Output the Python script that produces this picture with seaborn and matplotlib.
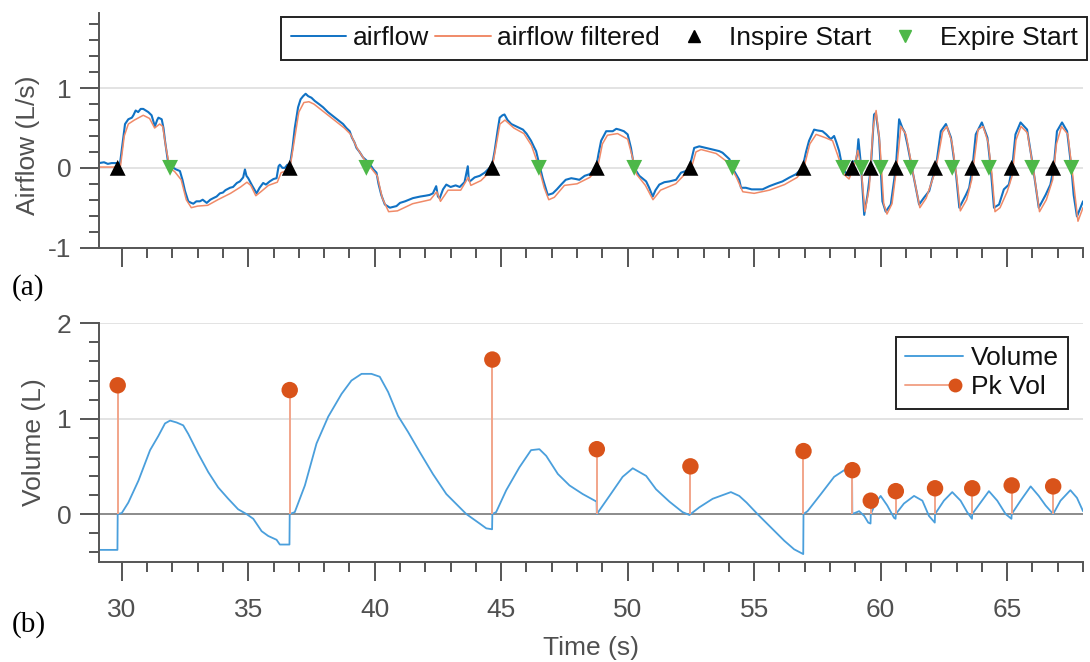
import matplotlib
matplotlib.use("Agg")
import matplotlib.pyplot as plt
from matplotlib.lines import Line2D
from matplotlib.legend_handler import HandlerBase
from matplotlib.ticker import MultipleLocator
import seaborn as sns

# ---------------- data ----------------
AIR_T = [29.10, 29.30, 29.45, 29.60, 29.80, 29.93, 30.05, 30.13, 30.26, 30.40, 30.46, 30.55, 30.65, 30.75,
         30.85, 30.95, 31.05, 31.18, 31.31, 31.40, 31.45, 31.58, 31.65, 31.71, 31.84, 31.95, 32.04, 32.15,
         32.30, 32.40, 32.50, 32.63, 32.75, 32.83, 32.95, 33.09, 33.20, 33.36, 33.50, 33.62, 33.75, 33.88,
         34.00, 34.10, 34.28, 34.40, 34.55, 34.67, 34.80, 34.87, 34.93, 35.00, 35.15, 35.33, 35.45, 35.59,
         35.70, 35.85, 36.00, 36.12, 36.20, 36.25, 36.35, 36.45, 36.55, 36.64, 36.75, 36.84, 36.97, 37.07,
         37.17, 37.27, 37.37, 37.50, 37.63, 37.80, 37.96, 38.15, 38.35, 38.55, 38.75, 38.88, 39.01, 39.10,
         39.20, 39.28, 39.40, 39.54, 39.65, 39.80, 39.95, 40.07, 40.15, 40.26, 40.40, 40.60, 40.86, 41.00,
         41.20, 41.51, 41.80, 42.00, 42.17, 42.30, 42.43, 42.50, 42.57, 42.70, 42.83, 43.00, 43.20, 43.36,
         43.55, 43.68, 43.72, 43.76, 43.95, 44.15, 44.35, 44.54, 44.65, 44.74, 44.85, 44.94, 45.05, 45.13,
         45.25, 45.40, 45.60, 45.86, 46.00, 46.18, 46.30, 46.38, 46.51, 46.64, 46.84, 47.04, 47.20, 47.37,
         47.55, 47.77, 47.95, 48.09, 48.30, 48.49, 48.65, 48.75, 48.85, 48.95, 49.15, 49.41, 49.55, 49.67,
         49.85, 50.00, 50.13, 50.26, 50.46, 50.73, 50.85, 50.99, 51.10, 51.25, 51.45, 51.65, 51.91, 52.11,
         52.30, 52.44, 52.63, 52.83, 53.10, 53.36, 53.62, 53.75, 54.02, 54.21, 54.41, 54.48, 54.67, 54.90,
         55.10, 55.33, 55.60, 55.85, 56.12, 56.40, 56.65, 56.91, 57.05, 57.17, 57.37, 57.50, 57.70, 57.85,
         58.03, 58.16, 58.25, 58.36, 58.49, 58.62, 58.76, 58.88, 59.02, 59.08, 59.12, 59.17, 59.22, 59.35,
         59.48, 59.61, 59.74, 59.81, 59.94, 60.07, 60.20, 60.40, 60.60, 60.73, 60.86, 60.95, 61.06, 61.26,
         61.52, 61.70, 61.92, 62.05, 62.18, 62.38, 62.58, 62.78, 62.98, 63.11, 63.37, 63.50, 63.63, 63.76,
         64.00, 64.22, 64.35, 64.48, 64.68, 64.87, 65.07, 65.20, 65.33, 65.53, 65.79, 65.99, 66.25, 66.52,
         66.71, 66.84, 66.97, 67.17, 67.37, 67.54, 67.63, 67.76, 67.90, 68.00]
AIR_V = [0.06, 0.07, 0.05, 0.06, 0.06, 0.05, 0.35, 0.55, 0.61, 0.63, 0.66, 0.72, 0.70, 0.74,
         0.74, 0.72, 0.70, 0.66, 0.52, 0.60, 0.63, 0.61, 0.50, 0.34, 0.05, 0.02, 0.00, -0.02,
         -0.04, -0.15, -0.29, -0.42, -0.44, -0.45, -0.42, -0.42, -0.40, -0.44, -0.40, -0.38, -0.36, -0.32,
         -0.31, -0.28, -0.25, -0.24, -0.19, -0.17, -0.12, -0.02, -0.10, -0.13, -0.22, -0.32, -0.25, -0.19,
         -0.21, -0.17, -0.14, -0.13, 0.02, 0.04, 0.00, 0.00, 0.04, 0.02, 0.25, 0.50, 0.76, 0.86,
         0.90, 0.93, 0.90, 0.88, 0.84, 0.80, 0.76, 0.70, 0.65, 0.60, 0.55, 0.50, 0.46, 0.38,
         0.32, 0.25, 0.20, 0.13, 0.10, 0.05, -0.02, -0.06, -0.20, -0.34, -0.46, -0.50, -0.48, -0.44,
         -0.42, -0.38, -0.36, -0.35, -0.34, -0.32, -0.23, -0.36, -0.38, -0.27, -0.21, -0.24, -0.22, -0.24,
         -0.18, 0.02, -0.15, -0.17, -0.12, -0.10, -0.06, 0.00, 0.05, 0.21, 0.45, 0.63, 0.66, 0.67,
         0.60, 0.55, 0.52, 0.48, 0.43, 0.34, 0.26, 0.21, 0.04, -0.13, -0.34, -0.32, -0.27, -0.21,
         -0.15, -0.13, -0.14, -0.15, -0.10, -0.08, -0.04, 0.00, 0.18, 0.34, 0.46, 0.46, 0.49, 0.48,
         0.46, 0.42, 0.25, 0.00, -0.10, -0.17, -0.25, -0.36, -0.28, -0.21, -0.18, -0.17, -0.15, -0.06,
         -0.04, 0.00, 0.25, 0.27, 0.25, 0.23, 0.21, 0.19, 0.11, -0.04, -0.15, -0.25, -0.25, -0.27,
         -0.27, -0.27, -0.23, -0.20, -0.17, -0.12, -0.08, 0.00, 0.20, 0.34, 0.48, 0.47, 0.46, 0.42,
         0.36, 0.40, 0.32, 0.21, 0.00, -0.06, -0.10, 0.08, 0.08, 0.20, 0.36, 0.20, 0.04, -0.59,
         -0.34, 0.00, 0.67, 0.69, 0.38, -0.42, -0.55, -0.46, 0.00, 0.61, 0.50, 0.45, 0.29, -0.04,
         -0.46, -0.38, -0.29, -0.13, 0.00, 0.46, 0.55, 0.38, -0.08, -0.50, -0.34, -0.25, 0.00, 0.42,
         0.57, 0.38, 0.00, -0.50, -0.46, -0.27, -0.21, 0.00, 0.42, 0.57, 0.48, 0.08, -0.50, -0.34,
         -0.21, 0.00, 0.46, 0.57, 0.46, 0.00, -0.34, -0.61, -0.50, -0.42]

FILT_T = [29.10, 29.80, 29.95, 30.10, 30.26, 30.50, 30.85, 31.10, 31.30, 31.50, 31.62, 31.75, 31.90, 32.10,
          32.35, 32.55, 32.75, 33.00, 33.40, 33.80, 34.30, 34.70, 34.95, 35.10, 35.30, 35.50, 35.80, 36.15,
          36.30, 36.50, 36.65, 36.80, 37.00, 37.20, 37.40, 37.60, 38.00, 38.40, 38.80, 39.05, 39.30, 39.60,
          39.90, 40.10, 40.30, 40.55, 40.90, 41.50, 42.20, 42.45, 42.60, 42.90, 43.40, 43.70, 43.80, 44.20,
          44.55, 44.70, 44.95, 45.15, 45.50, 45.90, 46.20, 46.45, 46.70, 46.88, 47.10, 47.50, 48.00, 48.50,
          48.80, 49.00, 49.20, 49.60, 50.00, 50.20, 50.35, 50.70, 51.00, 51.30, 51.90, 52.20, 52.50, 52.70,
          52.90, 53.50, 54.00, 54.30, 54.55, 55.00, 55.60, 56.20, 56.70, 56.95, 57.20, 57.45, 57.80, 58.10,
          58.30, 58.55, 58.75, 58.95, 59.10, 59.22, 59.38, 59.55, 59.70, 59.82, 59.97, 60.12, 60.25, 60.45,
          60.65, 60.80, 61.00, 61.10, 61.30, 61.55, 61.80, 62.10, 62.25, 62.45, 62.62, 62.82, 63.02, 63.15,
          63.40, 63.60, 63.70, 63.85, 64.05, 64.25, 64.40, 64.52, 64.72, 65.00, 65.20, 65.35, 65.55, 65.80,
          66.02, 66.28, 66.55, 66.80, 66.95, 67.15, 67.40, 67.58, 67.80, 68.00]
FILT_V = [0.01, 0.01, 0.02, 0.40, 0.55, 0.60, 0.66, 0.62, 0.50, 0.55, 0.52, 0.25, 0.00, -0.05,
          -0.15, -0.40, -0.50, -0.48, -0.47, -0.40, -0.32, -0.24, -0.18, -0.22, -0.35, -0.30, -0.22, -0.18,
          -0.06, -0.04, 0.00, 0.30, 0.70, 0.82, 0.83, 0.80, 0.70, 0.60, 0.50, 0.42, 0.25, 0.10,
          -0.02, -0.10, -0.38, -0.55, -0.54, -0.45, -0.40, -0.30, -0.42, -0.28, -0.28, -0.12, -0.22, -0.16,
          -0.05, 0.10, 0.55, 0.60, 0.50, 0.43, 0.28, 0.05, -0.25, -0.40, -0.37, -0.22, -0.20, -0.12,
          -0.02, 0.30, 0.41, 0.43, 0.36, 0.12, -0.08, -0.22, -0.40, -0.28, -0.20, -0.10, -0.02, 0.20,
          0.23, 0.18, 0.06, -0.12, -0.30, -0.32, -0.28, -0.21, -0.12, -0.02, 0.30, 0.42, 0.38, 0.34,
          0.16, -0.08, -0.14, 0.02, 0.22, 0.02, -0.55, -0.25, 0.50, 0.72, 0.30, -0.45, -0.58, -0.45,
          0.05, 0.52, 0.42, 0.25, -0.10, -0.50, -0.38, -0.10, 0.10, 0.45, 0.52, 0.32, -0.15, -0.54,
          -0.40, -0.15, 0.10, 0.48, 0.52, 0.32, -0.08, -0.55, -0.50, -0.30, -0.10, 0.35, 0.52, 0.44,
          0.02, -0.55, -0.40, -0.15, 0.30, 0.52, 0.42, -0.06, -0.67, -0.50]

INSPIRE_T = [29.84, 36.64, 44.65, 48.78, 52.48, 56.95, 58.88, 59.61, 60.60, 62.15, 63.62, 65.18, 66.82]
EXPIRE_T = [31.91, 39.67, 46.49, 50.26, 54.14, 58.52, 59.24, 60.00, 61.19, 62.83, 64.28, 65.99, 67.54]

VOL_T = [29.08, 29.83, 29.84, 30.00, 30.26, 30.66, 31.12, 31.45, 31.71, 31.91, 32.17, 32.43, 32.63, 33.03,
         33.42, 33.81, 34.21, 34.60, 34.93, 35.20, 35.53, 35.79, 36.12, 36.25, 36.63, 36.64, 36.84, 37.24,
         37.70, 38.16, 38.69, 39.08, 39.48, 39.87, 40.20, 40.53, 40.92, 41.32, 41.78, 42.30, 42.83, 43.62,
         44.15, 44.41, 44.64, 44.65, 44.80, 45.20, 45.72, 46.18, 46.51, 46.78, 47.24, 47.70, 48.22, 48.77,
         48.78, 49.28, 49.80, 50.20, 50.73, 51.12, 51.65, 52.17, 52.44, 52.83, 53.36, 54.08, 54.41, 54.70,
         55.13, 55.66, 56.19, 56.58, 56.94, 56.95, 57.11, 57.64, 58.16, 58.56, 58.87, 58.88, 59.15, 59.35,
         59.51, 59.60, 59.61, 59.81, 60.00, 60.26, 60.53, 60.59, 60.60, 60.92, 61.32, 61.65, 61.91, 62.14,
         62.15, 62.50, 62.83, 63.16, 63.42, 63.61, 63.62, 63.95, 64.28, 64.61, 64.94, 65.17, 65.18, 65.53,
         65.93, 66.25, 66.52, 66.82, 67.11, 67.50, 67.76, 68.00]
VOL_V = [-0.376, -0.376, 0.00, 0.01, 0.12, 0.35, 0.67, 0.82, 0.95, 0.98, 0.96, 0.93, 0.84, 0.63,
         0.44, 0.28, 0.16, 0.05, 0.00, -0.05, -0.18, -0.23, -0.27, -0.32, -0.32, 0.00, 0.02, 0.30,
         0.74, 1.02, 1.26, 1.40, 1.47, 1.47, 1.44, 1.28, 1.03, 0.86, 0.65, 0.42, 0.21, 0.00,
         -0.10, -0.15, -0.16, 0.00, 0.02, 0.25, 0.49, 0.67, 0.68, 0.61, 0.42, 0.30, 0.21, 0.13,
         0.00, 0.19, 0.39, 0.48, 0.40, 0.26, 0.13, 0.02, -0.01, 0.07, 0.16, 0.23, 0.19, 0.12,
         0.00, -0.14, -0.28, -0.37, -0.42, 0.00, 0.03, 0.21, 0.39, 0.46, 0.44, 0.00, 0.03, -0.02,
         -0.09, -0.10, 0.00, 0.12, 0.19, 0.09, -0.04, -0.05, 0.00, 0.11, 0.19, 0.14, -0.02, -0.09,
         0.00, 0.14, 0.23, 0.14, 0.02, -0.05, 0.00, 0.12, 0.24, 0.14, 0.00, -0.05, 0.00, 0.14,
         0.29, 0.19, 0.09, 0.00, 0.14, 0.25, 0.17, 0.03]

PK_T = [29.84, 36.64, 44.65, 48.78, 52.48, 56.95, 58.88, 59.61, 60.60, 62.15, 63.62, 65.18, 66.82]
PK_V = [1.35, 1.30, 1.62, 0.68, 0.50, 0.66, 0.46, 0.14, 0.24, 0.27, 0.27, 0.30, 0.29]

X_TICKS = [30, 35, 40, 45, 50, 55, 60, 65]
X_TICK_LABELS = ["30", "35", "40", "45", "50", "55", "60", "65"]

# ---------------- style ----------------
sns.set_theme(style="white")
plt.rcParams["font.family"] = ["Liberation Sans", "DejaVu Sans"]

BLUE = "#1172c4"
ORANGE_F = "#f08a68"
VOL_BLUE = "#4a9fdc"
STEM = "#f2a58a"
DOT = "#d9531a"
GREEN = "#4db848"
GREY = "#505050"
FS = 19

fig = plt.figure(figsize=(10.9, 6.62), dpi=100)
ax1 = fig.add_axes([0.0908, 0.6249, 0.9028, 0.3550])
ax2 = fig.add_axes([0.0908, 0.1515, 0.9028, 0.3601])

for ax in (ax1, ax2):
    for s in ("top", "right"):
        ax.spines[s].set_visible(False)
    for s in ("left", "bottom"):
        ax.spines[s].set_color("#555555")
        ax.spines[s].set_linewidth(1.4)
    ax.set_xlim(29.1, 68.0)
    ax.xaxis.set_major_locator(MultipleLocator(5))
    ax.xaxis.set_minor_locator(MultipleLocator(1))
    ax.tick_params(which="major", direction="out", length=14, width=1.4, color="#555555",
                   labelsize=FS, labelcolor=GREY, bottom=True, left=True)
    ax.tick_params(which="minor", direction="out", length=7, width=1.4, color="#555555",
                   bottom=True, left=True)
    ax.tick_params(axis="x", pad=12)
    ax.tick_params(axis="y", pad=6)
    ax.yaxis.grid(True, which="major", color="#e3e3e3", lw=1.4)
    ax.xaxis.grid(False)
    ax.set_axisbelow(True)

# ---- top panel ----
sns.lineplot(x=AIR_T, y=AIR_V, ax=ax1, estimator=None, sort=False, color=BLUE, lw=1.5, zorder=2)
sns.lineplot(x=FILT_T, y=FILT_V, ax=ax1, estimator=None, sort=False, color=ORANGE_F, lw=1.1, zorder=2.5)
sns.scatterplot(x=INSPIRE_T, y=[0.0] * len(INSPIRE_T), ax=ax1, marker="^", s=130, color="black",
                edgecolor="none", zorder=4)
sns.scatterplot(x=EXPIRE_T, y=[0.0] * len(EXPIRE_T), ax=ax1, marker="v", s=130, color=GREEN,
                edgecolor="none", zorder=4)
ax1.set_ylim(-1.01, 1.94)
ax1.yaxis.set_minor_locator(MultipleLocator(0.2))
ax1.set_yticks([-1, 0, 1])
ax1.set_yticklabels(["-1", "0", "1"])
ax1.set_xticks(X_TICKS)
ax1.set_xticklabels([])
ax1.set_xlabel("")
ax1.set_ylabel("Airflow (L/s)", fontsize=FS, color=GREY)
ax1.yaxis.set_label_coords(-0.06, 0.44)

h1 = [Line2D([], [], color=BLUE, lw=1.4),
      Line2D([], [], color=ORANGE_F, lw=1.4),
      Line2D([], [], color="black", marker="^", ls="none", ms=8),
      Line2D([], [], color=GREEN, marker="v", ls="none", ms=8)]
leg1 = ax1.legend(h1, ["airflow", "airflow filtered", "Inspire Start", "Expire Start"],
                  loc="upper right", bbox_to_anchor=(0.997, 0.974), bbox_transform=fig.transFigure,
                  ncol=4, fontsize=FS, frameon=True, fancybox=False, framealpha=1,
                  edgecolor="#222222", handlelength=2.1, handletextpad=0.25, columnspacing=0.25,
                  borderpad=0.35, borderaxespad=0)
leg1.get_frame().set_linewidth(1.4)
for t in leg1.get_texts():
    t.set_color("#111111")

# ---- bottom panel ----
ax2.axhline(0, color="#8c8c8c", lw=1.4, zorder=1)
sns.lineplot(x=VOL_T, y=VOL_V, ax=ax2, estimator=None, sort=False, color=VOL_BLUE, lw=1.3, zorder=2)
ax2.vlines(PK_T, 0, PK_V, color=STEM, lw=1.4, zorder=3)
sns.scatterplot(x=PK_T, y=PK_V, ax=ax2, s=140, color=DOT, edgecolor="none", zorder=4)
ax2.set_ylim(-0.5, 2.0)
ax2.set_yticks([0, 1, 2])
ax2.set_yticklabels(["0", "1", "2"])
ax2.yaxis.set_minor_locator(MultipleLocator(0.2))
ax2.set_xticks(X_TICKS)
ax2.set_xticklabels(X_TICK_LABELS)
ax2.set_xlabel("Time (s)", fontsize=FS, color=GREY, labelpad=10)
ax2.set_ylabel("Volume (L)", fontsize=FS, color=GREY)
ax2.yaxis.set_label_coords(-0.054, 0.5)


class StemHandler(HandlerBase):
    def create_artists(self, legend, orig_handle, xdescent, ydescent, width, height, fontsize, trans):
        y = height / 2 - ydescent
        x0, x1 = -xdescent, width - xdescent
        line = Line2D([x0, x1 - 6], [y, y], color=STEM, lw=1.4)
        dot = Line2D([x1 - 6], [y], marker="o", color=DOT, ms=10, ls="none", markeredgecolor="none")
        line.set_transform(trans)
        dot.set_transform(trans)
        return [line, dot]


vol_handle = Line2D([], [], color=VOL_BLUE, lw=1.4)
stem_handle = Line2D([], [], color=STEM)
leg2 = ax2.legend([vol_handle, stem_handle], ["Volume", "Pk Vol"],
                  handler_map={stem_handle: StemHandler()},
                  loc="upper right", bbox_to_anchor=(0.98, 0.491), bbox_transform=fig.transFigure,
                  fontsize=FS, frameon=True, fancybox=False, framealpha=1, edgecolor="#222222",
                  handlelength=2.2, handletextpad=0.3, labelspacing=0.2, borderpad=0.35,
                  borderaxespad=0)
leg2.get_frame().set_linewidth(1.4)
for t in leg2.get_texts():
    t.set_color("#111111")

fig.text(0.011, 0.565, "(a)", family=["Liberation Serif", "DejaVu Serif"], fontsize=21,
         color="black", va="center", ha="left")
fig.text(0.011, 0.056, "(b)", family=["Liberation Serif", "DejaVu Serif"], fontsize=21,
         color="black", va="center", ha="left")

fig.savefig("out.png", dpi=100)
